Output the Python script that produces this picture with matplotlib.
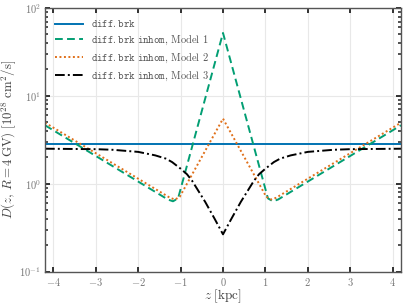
import matplotlib
matplotlib.use("Agg")
import matplotlib.pyplot as plt
from matplotlib.ticker import LogLocator, MultipleLocator, NullFormatter

plt.rcParams['font.family'] = ['cmr10', 'DejaVu Serif']
plt.rcParams['mathtext.fontset'] = 'cm'
plt.rcParams['axes.formatter.use_mathtext'] = True

# data
z_brk = [-4.2, 4.2]
d_brk = [2.8, 2.8]

z_m1 = [-4.2, -1.3, -1.18, -1.06, 0.0, 1.06, 1.18, 1.3, 4.2]
d_m1 = [4.62, 0.66, 0.63, 0.68, 52.0, 0.68, 0.63, 0.66, 4.62]

z_m2 = [-4.2, -1.25, -1.13, -1.02, 0.0, 1.02, 1.13, 1.25, 4.2]
d_m2 = [4.95, 0.69, 0.66, 0.71, 5.5, 0.71, 0.66, 0.69, 4.95]

z_m3 = [-4.2, -3.4, -3.0, -2.6, -2.0, -1.6, -1.35, -1.2, -1.0, -0.85, -0.73,
        -0.42, -0.2, 0.0, 0.2, 0.42, 0.73, 0.85, 1.0, 1.2, 1.35, 1.6, 2.0,
        2.6, 3.0, 3.4, 4.2]
d_m3 = [2.5, 2.48, 2.47, 2.43, 2.3, 2.1, 1.93, 1.76, 1.48, 1.28, 1.08,
        0.62, 0.4, 0.265, 0.4, 0.62, 1.08, 1.28, 1.48, 1.76, 1.93, 2.1, 2.3,
        2.43, 2.47, 2.48, 2.5]

labels = [r"$\mathtt{diff.brk}$",
          r"$\mathtt{diff.brk\ inhom}$, Model 1",
          r"$\mathtt{diff.brk\ inhom}$, Model 2",
          r"$\mathtt{diff.brk\ inhom}$, Model 3"]

fig = plt.figure(figsize=(4.07, 3.05), dpi=100)
ax = fig.add_axes([45/407, 33.5/305, 356/407, 263.5/305])

lw = 1.4
ax.plot(z_brk, d_brk, color='#0173b2', lw=lw, ls='-', label=labels[0])
ax.plot(z_m1, d_m1, color='#029e73', lw=lw, ls=(0, (4, 2.2)), label=labels[1])
ax.plot(z_m2, d_m2, color='#e0701a', lw=lw, ls=(0, (1, 1.3)), label=labels[2])
ax.plot(z_m3, d_m3, color='black', lw=lw, ls=(0, (5, 1.6, 1, 1.6)), label=labels[3])

ax.set_yscale('log')
ax.set_xlim(-4.2, 4.2)
ax.set_ylim(0.1, 100)
ax.xaxis.set_major_locator(MultipleLocator(1))
ax.yaxis.set_major_locator(LogLocator(base=10, numticks=10))
ax.yaxis.set_minor_locator(LogLocator(base=10, subs=range(2, 10), numticks=20))
ax.yaxis.set_minor_formatter(NullFormatter())

ax.grid(True, which='major', color='#e8e8e8', lw=0.8)
ax.set_axisbelow(True)
for s in ax.spines.values():
    s.set_color('#555555')
    s.set_linewidth(1.0)

ax.tick_params(which='both', direction='in', top=True, right=True, color='#222222',
               labelcolor='#777777', labelsize=7.5)
ax.tick_params(which='major', length=3.5, width=1.3, pad=3)
ax.tick_params(which='minor', length=2.5, width=1.1)

ax.set_xlabel(r"$z\ [{\rm kpc}]$", fontsize=9.5, color='#444444', labelpad=0)
ax.set_ylabel(r"$D(z,\, R=4\,{\rm GV})\ [10^{28}\ {\rm cm^2/s}]$", fontsize=9.3,
              color='#444444', labelpad=0.5)

leg = ax.legend(loc='upper left', frameon=False, fontsize=7.5, handlelength=2.6,
                labelspacing=0.42, borderaxespad=0.6, handletextpad=0.8)
for t in leg.get_texts():
    t.set_color('#555555')

fig.savefig('out.png', dpi=100)
